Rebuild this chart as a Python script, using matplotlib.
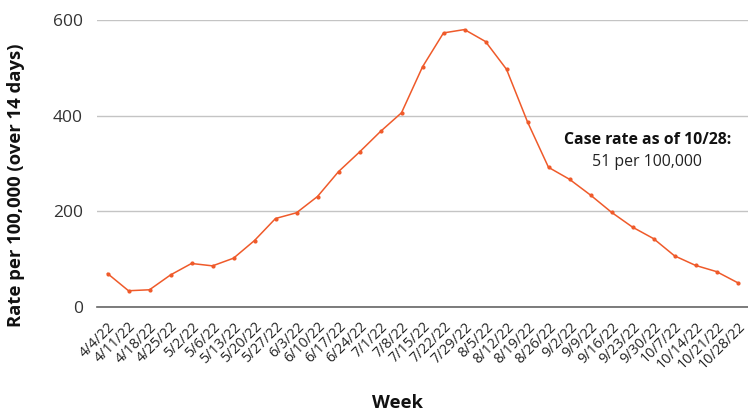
import matplotlib.pyplot as plt

LINE_COLOR = '#ef5a2a'

weeks = ['4/4/22', '4/11/22', '4/18/22', '4/25/22', '5/2/22', '5/6/22',
         '5/13/22', '5/20/22', '5/27/22', '6/3/22', '6/10/22', '6/17/22',
         '6/24/22', '7/1/22', '7/8/22', '7/15/22', '7/22/22', '7/29/22',
         '8/5/22', '8/12/22', '8/19/22', '8/26/22', '9/2/22', '9/9/22',
         '9/16/22', '9/23/22', '9/30/22', '10/7/22', '10/14/22', '10/21/22',
         '10/28/22']
rates = [70, 34, 36, 67, 91, 86, 102, 139, 185, 197, 231, 283,
         324, 367, 406, 502, 573, 580, 555, 497, 387, 292, 267, 234,
         198, 167, 143, 107, 87, 74, 51]
yticks = [0, 200, 400, 600]

plt.rcParams['font.family'] = ['Open Sans', 'DejaVu Sans']

fig = plt.figure(figsize=(7.48, 4.11), dpi=100)
ax = fig.add_axes([97 / 748, 104 / 411, 651 / 748, 287 / 411])

x = list(range(len(weeks)))
ax.plot(x, rates, color=LINE_COLOR, linewidth=1.1, marker='o',
        markersize=2, zorder=3)

ax.set_xlim(-0.5, len(weeks) - 0.5)
ax.set_ylim(0, 600)
ax.set_yticks(yticks)
ax.set_yticklabels([str(t) for t in yticks], fontsize=12.5, color='#333333')
ax.set_xticks(x)
ax.set_xticklabels(weeks, rotation=45, ha='right', rotation_mode='anchor',
                   fontsize=10.3, color='#222222')
ax.tick_params(axis='both', length=0)
ax.tick_params(axis='y', pad=10)
ax.tick_params(axis='x', pad=9)

ax.grid(axis='y', color='#c4c4c4', linewidth=1)
ax.set_axisbelow(True)
for side in ['top', 'right', 'left']:
    ax.spines[side].set_visible(False)
ax.spines['bottom'].set_color('#666666')
ax.spines['bottom'].set_linewidth(1.2)

# annotation of the latest value
ax.text(25.7, 350, 'Case rate as of 10/28:', ha='center', va='center',
        fontsize=11.4, fontweight='bold', color='#111111')
ax.text(25.7, 303, '51 per 100,000', ha='center', va='center',
        fontsize=11.4, color='#222222')

fig.text(397 / 748, 1 - 403 / 411, 'Week', ha='center', va='center',
         fontsize=13.3, fontweight='bold', color='#111111')
fig.text(16 / 748, 1 - 185 / 411, 'Rate per 100,000 (over 14 days)',
         rotation=90, ha='center', va='center', fontsize=13.3,
         fontweight='bold', color='#111111')

plt.savefig('out.png', dpi=100)
